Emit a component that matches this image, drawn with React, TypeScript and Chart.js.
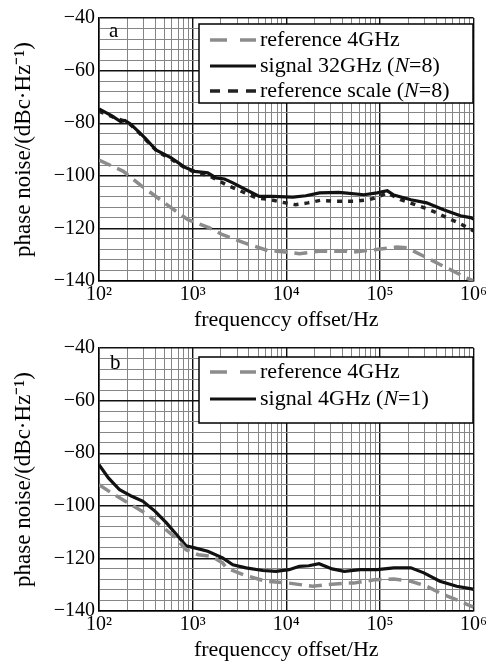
import React, { useEffect, useRef } from 'react';
import { Chart, registerables } from 'chart.js';

Chart.register(...registerables);

// ---------- data ----------
// Panel a
const refA_f = [100, 182, 284, 501, 891, 1514, 2089, 3573, 6310, 10715, 13800, 22400, 43600, 49000, 87000, 151000, 195000, 295000, 479000, 851000, 1000000];
const refA_v = [-94, -98.3, -103.8, -110.3, -116.7, -119.8, -122.4, -125.5, -128.4, -129.1, -129.6, -128.7, -128.7, -129.1, -128.1, -127.1, -127.4, -130.6, -134.4, -138.9, -140];

const sigA_f = [100, 136, 170, 189, 215, 240, 309, 410, 590, 820, 1050, 1450, 1780, 2190, 2690, 3720, 5150, 7080, 11750, 16200, 22650, 36300, 41700, 67600, 93300, 120000, 141000, 214000, 316000, 479000, 724000, 955000, 1000000];
const sigA_v = [-74.6, -77.1, -79.4, -79, -80.2, -81.8, -85.6, -90.3, -93.2, -96.7, -98.3, -98.9, -100.8, -101.2, -102.7, -105.3, -107.8, -107.8, -108.1, -107.6, -106.5, -106.3, -106.5, -107.2, -106.5, -105.7, -107.3, -109.1, -110.3, -112.9, -115.2, -116, -116.5];

const scaA_f = [100, 150, 200, 250, 320, 420, 600, 830, 1050, 1500, 2290, 4790, 6610, 9120, 12600, 17000, 23400, 33100, 52500, 75900, 89100, 120000, 166000, 269000, 372000, 525000, 692000, 955000, 1000000];
const scaA_v = [-75.5, -78, -79.5, -82.5, -86.5, -90.8, -93.8, -97, -98.6, -100, -103.4, -108.4, -109, -110.1, -111, -110.3, -109.3, -109.7, -109.7, -109.1, -108.4, -106.5, -109.1, -111.6, -113.5, -116, -117.9, -120.5, -121];

// Panel b
const refB_f = [100, 136, 204, 309, 468, 661, 851, 1150, 1580, 2090, 2290, 3470, 6030, 10700, 19100, 26300, 42700, 52500, 87100, 141000, 214000, 316000, 479000, 724000, 912000, 1000000];
const refB_v = [-92, -95.1, -98.9, -102.7, -107.8, -112.2, -116.7, -118.6, -119.2, -121.7, -123.6, -126.2, -128.7, -129.4, -130.6, -130, -129.4, -129.4, -128.1, -127.8, -128.7, -130.6, -133.8, -136.3, -138, -138.5];

const sigB_f = [100, 126, 166, 224, 295, 398, 525, 676, 851, 1050, 1450, 2090, 2690, 3720, 5620, 7760, 10700, 13800, 17400, 22400, 30900, 41700, 61700, 93300, 141000, 214000, 295000, 437000, 661000, 955000, 1000000];
const sigB_v = [-84.4, -89.4, -93.9, -96.4, -98.3, -102.1, -106.5, -111, -115.2, -116, -117.3, -119.8, -122.4, -123.6, -124.6, -124.9, -124.3, -123, -122.8, -122, -124, -124.9, -124.3, -124.3, -123.6, -123.6, -125.5, -128.7, -130.6, -131.6, -131.8];

// axis / tick definitions
const X_MIN = 100;
const X_MAX = 1000000;
const Y_MIN = -140;
const Y_MAX = -40;
const Y_LABEL_STEP = 20;
const Y_GRID_STEP = 4;
const X_TITLE = 'frequenccy offset/Hz';
const Y_TITLE = 'phase noise/(dBc·Hz⁻¹)';
const SUP = ['⁰', '¹', '²', '³', '⁴', '⁵', '⁶', '⁷'];

const FONT = '"Liberation Serif", "Times New Roman", Times, serif';

const X_GRID: number[] = [];
for (let d = 2; d < 6; d++) for (let m = 1; m <= 9; m++) X_GRID.push(m * Math.pow(10, d));
X_GRID.push(X_MAX);
const Y_GRID: number[] = [];
for (let v = Y_MIN; v <= Y_MAX; v += Y_GRID_STEP) Y_GRID.push(v);

const isDecade = (v: number) => {
  const l = Math.log10(v);
  return Math.abs(l - Math.round(l)) < 1e-6;
};

type Series = {
  label: string;
  f: number[];
  v: number[];
  color: string;
  width: number;
  dash: number[];
  legendDash: number[];
};

const REF_STYLE = { color: '#8c8c8c', width: 3.5, dash: [13, 7], legendDash: [17, 13] };
const SIG_STYLE = { color: '#111111', width: 3.2, dash: [], legendDash: [] };
const SCA_STYLE = { color: '#222222', width: 3.5, dash: [5, 6], legendDash: [10, 8] };

const panelA: Series[] = [
  { label: 'reference 4GHz', f: refA_f, v: refA_v, ...REF_STYLE },
  { label: 'signal 32GHz (N=8)', f: sigA_f, v: sigA_v, ...SIG_STYLE },
  { label: 'reference scale (N=8)', f: scaA_f, v: scaA_v, ...SCA_STYLE },
];
const panelB: Series[] = [
  { label: 'reference 4GHz', f: refB_f, v: refB_v, ...REF_STYLE },
  { label: 'signal 4GHz (N=1)', f: sigB_f, v: sigB_v, ...SIG_STYLE },
];

// ---------- plugin: boxed legend inside plot + panel letter ----------
function drawRich(ctx: CanvasRenderingContext2D, text: string, x: number, y: number, size: number) {
  const m = text.match(/^(.*\()N(=.*)$/);
  const normal = `${size}px ${FONT}`;
  const italic = `italic ${size}px ${FONT}`;
  ctx.textAlign = 'left';
  ctx.textBaseline = 'middle';
  ctx.fillStyle = '#000';
  if (!m) {
    ctx.font = normal;
    ctx.fillText(text, x, y);
    return;
  }
  ctx.font = normal;
  ctx.fillText(m[1], x, y);
  let cx = x + ctx.measureText(m[1]).width;
  ctx.font = italic;
  ctx.fillText('N', cx, y);
  cx += ctx.measureText('N').width;
  ctx.font = normal;
  ctx.fillText(m[2], cx, y);
}

const boxLegend = {
  id: 'boxLegend',
  afterDatasetsDraw(chart: any, _args: any, opts: any) {
    const ctx: CanvasRenderingContext2D = chart.ctx;
    const { box, rows, sampleX1, sampleX2, textX, size, letter, letterX, letterY } = opts;
    ctx.save();
    ctx.fillStyle = '#ffffff';
    ctx.fillRect(box.x, box.y, box.w, box.h);
    ctx.strokeStyle = '#000';
    ctx.lineWidth = 1.5;
    ctx.setLineDash([]);
    ctx.strokeRect(box.x, box.y, box.w, box.h);
    chart.data.datasets.forEach((ds: any, i: number) => {
      const y = rows[i];
      ctx.beginPath();
      ctx.setLineDash(ds.legendDash || []);
      ctx.strokeStyle = ds.borderColor;
      ctx.lineWidth = ds.borderWidth;
      ctx.lineCap = 'butt';
      ctx.moveTo(sampleX1, y);
      ctx.lineTo(sampleX2, y);
      ctx.stroke();
      ctx.setLineDash([]);
      drawRich(ctx, ds.label, textX, y, size);
    });
    ctx.font = `${size - 1}px ${FONT}`;
    ctx.fillStyle = '#000';
    ctx.textAlign = 'left';
    ctx.textBaseline = 'alphabetic';
    ctx.fillText(letter, letterX, letterY);
    ctx.restore();
  },
};

function buildConfig(series: Series[], o: any) {
  const gridColor = (major: boolean) => (major ? '#111111' : '#858585');
  return {
    type: 'line',
    data: {
      datasets: series.map((s) => ({
        label: s.label,
        data: s.f.map((x, i) => ({ x, y: s.v[i] })),
        borderColor: s.color,
        backgroundColor: s.color,
        borderWidth: s.width,
        borderDash: s.dash,
        legendDash: s.legendDash,
        pointRadius: 0,
        fill: false,
        tension: 0,
      })),
    },
    options: {
      animation: false,
      responsive: false,
      maintainAspectRatio: false,
      layout: { padding: { top: 18, right: 14, bottom: 0, left: 0 } },
      plugins: {
        legend: { display: false },
        tooltip: { enabled: false },
        boxLegend: o.legend,
      },
      scales: {
        x: {
          type: 'logarithmic',
          min: X_MIN,
          max: X_MAX,
          afterBuildTicks: (s: any) => {
            s.ticks = X_GRID.map((v) => ({ value: v }));
          },
          afterFit: (s: any) => {
            s.height = o.xAxisHeight;
          },
          ticks: {
            autoSkip: false,
            maxRotation: 0,
            minRotation: 0,
            padding: 2,
            color: '#000',
            font: { family: FONT, size: 20 },
            callback: (value: any) => {
              const v = Number(value);
              return isDecade(v) ? '10' + SUP[Math.round(Math.log10(v))] : '';
            },
          },
          grid: {
            drawTicks: false,
            color: (c: any) => gridColor(c.tick ? isDecade(c.tick.value) : false),
            lineWidth: (c: any) => (c.tick && isDecade(c.tick.value) ? 1.4 : 1),
          },
          border: { display: true, color: '#000', width: 1.5 },
          title: {
            display: true,
            text: X_TITLE,
            color: '#000',
            font: { family: FONT, size: 22 },
            padding: { top: 0, bottom: o.xTitlePad },
          },
        },
        y: {
          type: 'linear',
          min: Y_MIN,
          max: Y_MAX,
          afterBuildTicks: (s: any) => {
            s.ticks = Y_GRID.map((v) => ({ value: v }));
          },
          afterFit: (s: any) => {
            s.width = 99;
          },
          ticks: {
            autoSkip: false,
            padding: 4,
            color: '#000',
            font: { family: FONT, size: 20 },
            callback: (value: any) => {
              const v = Math.round(Number(value));
              if (v % Y_LABEL_STEP !== 0) return '';
              return v < 0 ? '\u2212' + Math.abs(v) : String(v);
            },
          },
          grid: {
            drawTicks: false,
            color: (c: any) => gridColor(c.tick ? Math.round(c.tick.value) % Y_LABEL_STEP === 0 : false),
            lineWidth: (c: any) => (c.tick && Math.round(c.tick.value) % Y_LABEL_STEP === 0 ? 1.4 : 1),
          },
          border: { display: true, color: '#000', width: 1.5 },
          title: {
            display: true,
            text: Y_TITLE,
            color: '#000',
            font: { family: FONT, size: 23 },
            padding: { top: 10, bottom: 0 },
          },
        },
      },
    },
    plugins: [boxLegend],
  };
}

function Panel(props: { top: number; height: number; series: Series[]; opts: any }) {
  const ref = useRef<HTMLCanvasElement | null>(null);
  useEffect(() => {
    if (!ref.current) return;
    const chart = new Chart(ref.current, buildConfig(props.series, props.opts) as any);
    return () => chart.destroy();
  }, []);
  return (
    <canvas
      ref={ref}
      width={489}
      height={props.height}
      style={{ position: 'absolute', left: 0, top: props.top, width: 489, height: props.height }}
    />
  );
}

const optsA = {
  xAxisHeight: 64,
  xTitlePad: 12,
  legend: {
    box: { x: 199, y: 24, w: 274, h: 79 },
    rows: [40, 66, 91],
    sampleX1: 210,
    sampleX2: 256,
    textX: 260,
    size: 22,
    letter: 'a',
    letterX: 109,
    letterY: 37,
  },
};

const optsB = {
  xAxisHeight: 52,
  xTitlePad: 0,
  legend: {
    box: { x: 199, y: 27, w: 274, h: 66 },
    rows: [42, 69],
    sampleX1: 210,
    sampleX2: 256,
    textX: 260,
    size: 22,
    letter: 'b',
    letterX: 110,
    letterY: 39,
  },
};

export default function App() {
  return (
    <div style={{ position: 'absolute', left: 0, top: 0, width: 489, height: 663, background: '#fff', overflow: 'hidden' }}>
      <Panel top={0} height={345} series={panelA} opts={optsA} />
      <Panel top={330} height={333} series={panelB} opts={optsB} />
    </div>
  );
}
